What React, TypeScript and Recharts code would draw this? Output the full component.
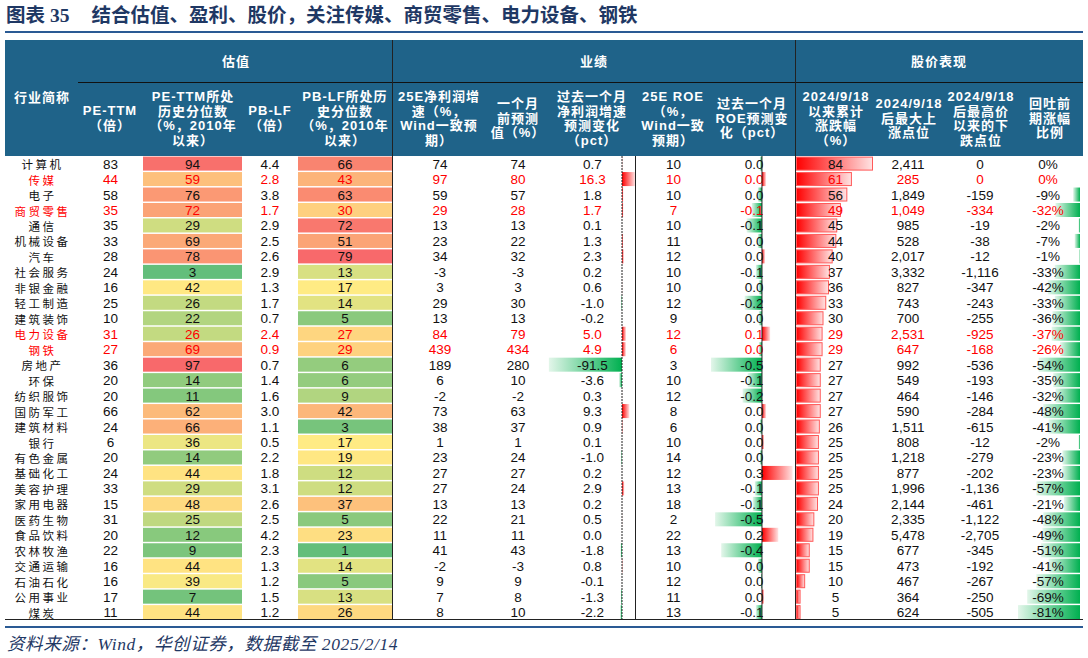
import React from 'react';
import { ComposedChart, Bar, XAxis, YAxis, ReferenceLine } from 'recharts';

const industries = ['计算机', '传媒', '电子', '商贸零售', '通信', '机械设备', '汽车', '社会服务', '非银金融', '轻工制造', '建筑装饰', '电力设备', '钢铁', '房地产', '环保', '纺织服饰', '国防军工', '建筑材料', '银行', '有色金属', '基础化工', '美容护理', '家用电器', '医药生物', '食品饮料', '农林牧渔', '交通运输', '石油石化', '公用事业', '煤炭'];
const highlighted = ['传媒', '商贸零售', '电力设备', '钢铁'];

const peTtm = [83, 44, 58, 35, 35, 33, 28, 24, 16, 25, 10, 31, 27, 36, 20, 20, 66, 24, 6, 20, 24, 33, 15, 31, 20, 22, 16, 16, 17, 11];
const pePct = [94, 59, 76, 72, 29, 69, 78, 3, 42, 26, 22, 26, 69, 97, 14, 11, 62, 66, 36, 14, 44, 29, 48, 25, 12, 9, 44, 39, 7, 44];
const pbLf = [4.4, 2.8, 3.8, 1.7, 2.9, 2.5, 2.6, 2.9, 1.3, 1.7, 0.7, 2.4, 0.9, 0.7, 1.4, 1.6, 3.0, 1.1, 0.5, 2.2, 1.8, 3.1, 2.6, 2.5, 4.2, 2.3, 1.3, 1.2, 1.5, 1.2];
const pbPct = [66, 43, 63, 30, 72, 51, 79, 13, 17, 14, 5, 27, 29, 6, 6, 9, 42, 3, 17, 19, 12, 12, 37, 5, 23, 1, 14, 5, 13, 26];
const np25 = [74, 97, 59, 29, 13, 23, 34, -3, 3, 29, 13, 84, 439, 189, 6, -2, 73, 38, 1, 23, 27, 27, 13, 22, 11, 41, -2, 9, 7, 8];
const npPrev = [74, 80, 57, 28, 13, 22, 32, -3, 3, 30, 13, 79, 434, 280, 10, -2, 63, 37, 1, 24, 27, 24, 13, 21, 11, 43, -3, 9, 8, 10];
const npChg = [0.7, 16.3, 1.8, 1.7, 0.1, 1.3, 2.3, 0.2, 0.6, -1.0, -0.2, 5.0, 4.9, -91.5, -3.6, 0.3, 9.3, 0.9, 0.1, -1.0, 0.2, 2.9, 0.2, 0.5, 0.0, -1.8, 0.8, -0.1, -1.3, -2.2];
const roe25 = [10, 10, 10, 7, 10, 11, 12, 10, 10, 12, 9, 12, 6, 3, 10, 12, 8, 6, 10, 14, 12, 13, 18, 2, 22, 13, 10, 12, 11, 13];
// shown with one decimal
const roeChg = [-0.02, 0.04, -0.04, -0.1, -0.15, -0.04, 0.03, -0.06, -0.03, -0.17, -0.03, 0.08, -0.03, -0.5, -0.14, -0.19, 0.04, -0.02, 0.02, -0.02, 0.3, -0.07, -0.09, -0.46, 0.16, -0.4, -0.04, -0.01, 0.02, -0.06];
const cumRise = [84, 61, 56, 49, 45, 44, 40, 37, 36, 33, 30, 29, 29, 27, 27, 27, 27, 26, 25, 25, 25, 25, 24, 20, 19, 15, 15, 10, 5, 5];
const maxUp = [2411, 285, 1849, 1049, 985, 528, 2017, 3332, 827, 743, 700, 2531, 647, 992, 549, 464, 590, 1511, 808, 1218, 877, 1996, 2144, 2335, 5478, 677, 473, 467, 364, 624];
const dropPts = [0, 0, -159, -334, -19, -38, -12, -1116, -347, -243, -255, -925, -168, -536, -193, -146, -284, -615, -12, -279, -202, -1136, -461, -1122, -2705, -345, -192, -267, -250, -505];
const retrace = [0, 0, -9, -32, -2, -7, -1, -33, -42, -33, -36, -37, -26, -54, -35, -32, -48, -41, -2, -23, -23, -57, -21, -48, -49, -51, -41, -57, -69, -81];

const rows = industries.map((name, i) => ({
  name,
  pe: peTtm[i],
  pePct: pePct[i],
  pb: pbLf[i],
  pbPct: pbPct[i],
  np25: np25[i],
  npPrev: npPrev[i],
  npChg: npChg[i],
  roe25: roe25[i],
  roeChg: roeChg[i],
  cum: cumRise[i],
  maxUp: maxUp[i],
  drop: dropPts[i],
  retr: retrace[i],
}));

const W = 1088;
const H = 658;
const NAVY = '#1f3864';
const HEAD_BG = '#1f6389';
const LINE_BLUE = '#2a5a94';
const NUM_FONT = "'Liberation Sans', Arial, sans-serif";
const CJK_FONT = "'Noto Sans CJK SC', sans-serif";

const GREEN = [99, 190, 123];
const YELLOW = [255, 235, 132];
const RED = [248, 105, 107];

function median(arr: number[]) {
  const s = [...arr].sort((a, b) => a - b);
  const m = Math.floor(s.length / 2);
  return s.length % 2 ? s[m] : (s[m - 1] + s[m]) / 2;
}

function mix(a: number[], b: number[], t: number) {
  const c = a.map((v, i) => Math.round(v + (b[i] - v) * t));
  return `rgb(${c[0]},${c[1]},${c[2]})`;
}

function heatColor(v: number, arr: number[]) {
  const min = Math.min(...arr);
  const max = Math.max(...arr);
  const mid = median(arr);
  if (v <= mid) return mix(GREEN, YELLOW, (v - min) / (mid - min));
  return mix(YELLOW, RED, (v - mid) / (max - mid));
}

const fmtInt = (v: number) => String(v);
const fmt1 = (v: number) => {
  const s = v.toFixed(1);
  return s === '-0.0' ? '0.0' : s;
};
const fmtK = (v: number) => v.toLocaleString('en-US');
const fmtPct = (v: number) => `${v}%`;

type Layer = {
  id: string;
  kind: 'text' | 'heat' | 'bar';
  key: string;
  x0: number;
  x1: number;
  domain?: [number, number];
  fmt?: (v: number) => string;
  align?: 'middle' | 'end';
  scale?: number[];
  stroke?: boolean;
  cjk?: boolean;
};

const barLayers: Layer[] = [
  { id: 'npChgBar', kind: 'bar', key: 'npChg', x0: 548.4, x1: 635.6, domain: [-92, 17] },
  { id: 'roeChgBar', kind: 'bar', key: 'roeChg', x0: 711, x1: 794.6, domain: [-0.5, 0.32] },
  { id: 'cumBar', kind: 'bar', key: 'cum', x0: 796, x1: 873, domain: [0, 84], stroke: true },
  { id: 'retrBar', kind: 'bar', key: 'retr', x0: 1018, x1: 1080, domain: [-81, 0] },
];

const cellLayers: Layer[] = [
  { id: 'name', kind: 'text', key: 'name', x0: 5, x1: 80, cjk: true },
  { id: 'pe', kind: 'text', key: 'pe', x0: 79, x1: 142, fmt: fmtInt },
  { id: 'pePct', kind: 'heat', key: 'pePct', x0: 143, x1: 242, fmt: fmtInt, scale: pePct },
  { id: 'pb', kind: 'text', key: 'pb', x0: 243, x1: 297, fmt: fmt1 },
  { id: 'pbPct', kind: 'heat', key: 'pbPct', x0: 298, x1: 392, fmt: fmtInt, scale: pbPct },
  { id: 'np25', kind: 'text', key: 'np25', x0: 394, x1: 486, fmt: fmtInt },
  { id: 'npPrev', kind: 'text', key: 'npPrev', x0: 486, x1: 550, fmt: fmtInt },
  { id: 'npChg', kind: 'text', key: 'npChg', x0: 549, x1: 636, fmt: fmt1 },
  { id: 'roe25', kind: 'text', key: 'roe25', x0: 636, x1: 711, fmt: fmtInt },
  { id: 'roeChg', kind: 'text', key: 'roeChg', x0: 711, x1: 763.5, fmt: fmt1, align: 'end' },
  { id: 'cum', kind: 'text', key: 'cum', x0: 796, x1: 875, fmt: fmtInt },
  { id: 'maxUp', kind: 'text', key: 'maxUp', x0: 875, x1: 941, fmt: fmtK },
  { id: 'drop', kind: 'text', key: 'drop', x0: 941, x1: 1019, fmt: fmtK },
  { id: 'retr', kind: 'text', key: 'retr', x0: 1016, x1: 1080, fmt: fmtPct },
];

const layers = [...barLayers, ...cellLayers];
const span = () => [0, 1];

const cellShape = (l: Layer) => (p: any) => {
  const { x, y, width, height, payload } = p;
  const v = payload[l.key];
  const red = highlighted.includes(payload.name);
  const tx = l.align === 'end' ? x + width : x + width / 2;
  return (
    <g>
      {l.kind === 'heat' && <rect x={x} y={y} width={width} height={height} fill={heatColor(v, l.scale!)} />}
      <text
        x={tx}
        y={y + height / 2 + 0.5}
        textAnchor={l.align === 'end' ? 'end' : 'middle'}
        dominantBaseline="central"
        fill={red ? '#ff0000' : '#111'}
        fontSize={l.cjk ? 11.5 : 13.5}
        fontFamily={l.cjk ? CJK_FONT : NUM_FONT}
        style={l.cjk ? { letterSpacing: 2.5 } : undefined}
      >
        {l.fmt ? l.fmt(v) : v}
      </text>
    </g>
  );
};

const dataBarShape = (l: Layer) => (p: any) => {
  let { x, width } = p;
  const { y, height, payload, index } = p;
  const v = payload[l.key];
  if (!width || v === 0) return <g />;
  if (width < 0) {
    x += width;
    width = -width;
  }
  const pos = v > 0;
  const solid = pos ? '#ff0000' : '#00b050';
  const light = pos ? '#ffe3e3' : '#e3f6ea';
  const id = `grad-${l.id}-${index}`;
  return (
    <g>
      <defs>
        <linearGradient id={id} x1="0" x2="1" y1="0" y2="0">
          <stop offset="0" stopColor={pos ? solid : light} />
          <stop offset="1" stopColor={pos ? light : solid} />
        </linearGradient>
      </defs>
      <rect
        x={l.stroke ? x + 0.5 : x}
        y={l.stroke ? y + 0.5 : y}
        width={l.stroke ? Math.max(width - 1, 0) : width}
        height={l.stroke ? height - 1 : height}
        fill={`url(#${id})`}
        stroke={l.stroke ? '#ff5a5a' : 'none'}
        strokeWidth={1}
      />
    </g>
  );
};

const headerCols = [
  { text: 'PE-TTM\n（倍）', cx: 110 },
  { text: 'PE-TTM所处\n历史分位数\n（%，2010年\n以来）', cx: 193 },
  { text: 'PB-LF\n（倍）', cx: 270 },
  { text: 'PB-LF所处历\n史分位数\n（%，2010年\n以来）', cx: 345 },
  { text: '25E净利润增\n速（%，\nWind一致预\n期）', cx: 439 },
  { text: '一个月\n前预测\n值（%）', cx: 518 },
  { text: '过去一个月\n净利润增速\n预测变化\n（pct）', cx: 592 },
  { text: '25E ROE\n（%，\nWind一致\n预期）', cx: 673 },
  { text: '过去一个月\nROE预测变\n化（pct）', cx: 752 },
  { text: '2024/9/18\n以来累计\n涨跌幅\n（%）', cx: 836 },
  { text: '2024/9/18\n后最大上\n涨点位', cx: 909 },
  { text: '2024/9/18\n后最高价\n以来的下\n跌点位', cx: 981 },
  { text: '回吐前\n期涨幅\n比例', cx: 1050 },
];
const headerGroups = [
  { text: '估值', cx: 236 },
  { text: '业绩', cx: 594 },
  { text: '股价表现', cx: 939 },
];

const headText = (cx: number, cy: number): React.CSSProperties => ({
  position: 'absolute',
  left: cx,
  top: cy,
  transform: 'translate(-50%, -50%)',
  color: '#fff',
  fontWeight: 'bold',
  fontSize: 13,
  lineHeight: '14.7px',
  letterSpacing: 1,
  whiteSpace: 'pre',
  textAlign: 'center',
  fontFamily: `${NUM_FONT.split(',')[0]}, ${CJK_FONT}`,
});

const line = (left: number, top: number, width: number, height: number, color: string): React.CSSProperties => ({
  position: 'absolute',
  left,
  top,
  width,
  height,
  background: color,
  zIndex: 3,
});

export default function App() {
  return (
    <div style={{ position: 'fixed', left: 0, top: 0, width: W, height: H, background: '#fff', overflow: 'hidden' }}>
      <div style={{ position: 'absolute', left: 0, top: 0 }}>
        <ComposedChart
          layout="vertical"
          width={W}
          height={H}
          data={rows}
          margin={{ top: 156, right: 0, bottom: 38, left: 0 }}
          barCategoryGap={0.6}
        >
          {layers.map((l) => (
            <XAxis
              key={`x-${l.id}`}
              xAxisId={l.id}
              type="number"
              hide
              allowDataOverflow
              domain={l.kind === 'bar' ? l.domain : [0, 1]}
              padding={{ left: l.x0, right: W - l.x1 }}
            />
          ))}
          {layers.map((l) => (
            <YAxis key={`y-${l.id}`} yAxisId={l.id} type="category" dataKey="name" hide />
          ))}
          {barLayers.map((l) => (
            <Bar
              key={l.id}
              xAxisId={l.id}
              yAxisId={l.id}
              dataKey={l.key}
              isAnimationActive={false}
              shape={dataBarShape(l)}
            />
          ))}
          {cellLayers.map((l) => (
            <Bar
              key={l.id}
              xAxisId={l.id}
              yAxisId={l.id}
              dataKey={span}
              isAnimationActive={false}
              shape={cellShape(l)}
            />
          ))}
          <ReferenceLine xAxisId="npChgBar" yAxisId="npChgBar" x={0} stroke="#222" strokeDasharray="2 1" />
          <ReferenceLine xAxisId="roeChgBar" yAxisId="roeChgBar" x={0} stroke="#222" />
        </ComposedChart>
      </div>

      <div
        style={{
          position: 'absolute',
          left: 6,
          top: 4,
          color: NAVY,
          fontWeight: 'bold',
          fontSize: 19.5,
          lineHeight: '24px',
          whiteSpace: 'pre',
          fontFamily: `'Liberation Serif', ${CJK_FONT}`,
        }}
      >
        图表 35<span style={{ marginLeft: 22 }}>结合估值、盈利、股价，关注传媒、商贸零售、电力设备、钢铁</span>
      </div>
      <div style={line(5, 31, 1078, 2, LINE_BLUE)} />

      <div style={{ position: 'absolute', left: 5, top: 40, width: 1078, height: 116, background: HEAD_BG }} />
      <div style={headText(42, 98)}>行业简称</div>
      {headerGroups.map((g) => (
        <div key={g.text} style={headText(g.cx, 61.5)}>
          {g.text}
        </div>
      ))}
      {headerCols.map((c) => (
        <div key={c.text} style={headText(c.cx, 119)}>
          {c.text}
        </div>
      ))}
      <div style={line(78, 82, 1005, 1, '#111')} />
      <div style={line(392, 40, 1, 580, '#222')} />
      <div style={line(795, 40, 1, 580, '#222')} />
      <div style={line(635, 156, 1, 464, '#222')} />
      <div style={line(5, 619, 1078, 1, '#222')} />
      <div style={line(5, 626, 1078, 2, LINE_BLUE)} />

      <div
        style={{
          position: 'absolute',
          left: 7,
          top: 633,
          color: NAVY,
          fontStyle: 'italic',
          fontSize: 17.5,
          lineHeight: '22px',
          letterSpacing: 0.6,
          whiteSpace: 'pre',
          fontFamily: `'Liberation Serif', ${CJK_FONT}`,
        }}
      >
        资料来源：Wind，华创证券，数据截至 2025/2/14
      </div>
    </div>
  );
}
